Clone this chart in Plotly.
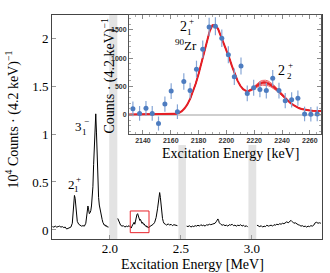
import plotly.graph_objects as go

# ---------------- data ----------------
# main spectrum (energy in MeV, counts in 10^4 per 4.2 keV); None marks gaps
spectrum_mev = [
    1.595, 1.605, 1.615, 1.625, 1.635, 1.645, 1.655, 1.665, 1.675, 1.685, 1.695, 1.705, 1.715, 1.725,
    1.735, 1.740, 1.745, 1.750, 1.755, 1.760, 1.765, 1.770, 1.780, 1.790, 1.800, 1.810, 1.820, 1.830,
    1.835, 1.840, 1.845, 1.850, 1.855, 1.860, 1.865, 1.870, 1.875, 1.880, 1.885, 1.890, 1.895, 1.900,
    1.905, 1.910, 1.915, 1.920, 1.925, 1.930, 1.935, 1.940, 1.945, 1.950, 1.955, 1.960, 1.965, 1.970,
    1.975, 1.980, 1.985, 1.990,
    2.020,
    2.055, 2.060, 2.065, 2.070, 2.075, 2.085, 2.095, 2.105, 2.115, 2.125, 2.135, 2.145, 2.150, 2.155,
    2.160, 2.165, 2.170, 2.175, 2.180, 2.185, 2.190, 2.195, 2.200, 2.205, 2.210, 2.215, 2.220, 2.225,
    2.230, 2.235, 2.240, 2.245, 2.250, 2.255, 2.260, 2.265, 2.270, 2.275, 2.285, 2.295, 2.305, 2.315,
    2.325, 2.335, 2.340, 2.345, 2.350, 2.355, 2.360, 2.365, 2.370, 2.375, 2.380, 2.390, 2.400, 2.410,
    2.420, 2.430, 2.440, 2.450, 2.460, 2.470, 2.475,
    2.505,
    2.540, 2.550, 2.560, 2.570, 2.580, 2.590, 2.600, 2.610, 2.620, 2.630, 2.640, 2.650, 2.660, 2.670,
    2.680, 2.690, 2.700, 2.710, 2.720, 2.730, 2.740, 2.750, 2.755, 2.760, 2.765, 2.770, 2.780, 2.790,
    2.800, 2.810, 2.820, 2.830, 2.840, 2.850, 2.860, 2.870, 2.880, 2.890, 2.900, 2.910, 2.920, 2.930,
    2.940, 2.950, 2.960, 2.970,
    3.000,
    3.035, 3.045, 3.055, 3.065, 3.075, 3.085, 3.095, 3.105, 3.115, 3.125, 3.135, 3.145, 3.155, 3.165,
    3.175, 3.185, 3.195, 3.205, 3.215, 3.225, 3.235, 3.245, 3.255, 3.265, 3.275, 3.285, 3.295, 3.305,
    3.315, 3.325, 3.335, 3.345, 3.355, 3.365, 3.375, 3.385, 3.395, 3.405, 3.415, 3.425, 3.435, 3.445,
    3.455, 3.465, 3.475, 3.485,
]
spectrum_counts = [
    0.035, 0.030, 0.040, 0.030, 0.035, 0.040, 0.030, 0.035, 0.025, 0.030, 0.010, 0.015, 0.020, 0.030,
    0.070, 0.150, 0.270, 0.360, 0.330, 0.220, 0.140, 0.090, 0.060, 0.050, 0.040, 0.045, 0.040, 0.070,
    0.130, 0.220, 0.250, 0.210, 0.170, 0.180, 0.200, 0.250, 0.330, 0.450, 0.680, 0.950, 1.180, 1.210,
    1.020, 0.720, 0.480, 0.340, 0.260, 0.210, 0.170, 0.140, 0.110, 0.080, 0.070, 0.050, 0.055, 0.040,
    0.045, 0.030, 0.035, 0.030,
    None,
    0.120, 0.100, 0.080, 0.060, 0.050, 0.040, 0.045, 0.030, 0.040, 0.035, 0.045, 0.030, 0.020, 0.040,
    0.050, 0.070, 0.080, 0.060, 0.100, 0.130, 0.160, 0.170, 0.150, 0.120, 0.100, 0.110, 0.080, 0.070,
    0.080, 0.060, 0.065, 0.050, 0.040, 0.045, 0.030, 0.035, 0.020, 0.030, 0.040, 0.050, 0.060, 0.080,
    0.130, 0.220, 0.300, 0.370, 0.390, 0.340, 0.250, 0.170, 0.120, 0.090, 0.070, 0.060, 0.050, 0.065,
    0.050, 0.060, 0.045, 0.055, 0.050, 0.040, 0.045,
    None,
    0.040, 0.035, 0.045, 0.030, 0.040, 0.035, 0.045, 0.040, 0.050, 0.040, 0.055, 0.045, 0.050, 0.040,
    0.055, 0.050, 0.060, 0.055, 0.060, 0.065, 0.070, 0.090, 0.100, 0.115, 0.100, 0.075, 0.060, 0.050,
    0.055, 0.045, 0.050, 0.040, 0.055, 0.050, 0.060, 0.045, 0.050, 0.040, 0.050, 0.045, 0.055, 0.040,
    0.050, 0.035, 0.045, 0.030,
    None,
    0.050, 0.040, 0.035, 0.045, 0.030, 0.040, 0.035, 0.050, 0.040, 0.045, 0.050, 0.040, 0.055, 0.050,
    0.060, 0.055, 0.065, 0.060, 0.070, 0.065, 0.080, 0.085, 0.075, 0.090, 0.100, 0.085, 0.070, 0.075,
    0.060, 0.055, 0.050, 0.040, 0.045, 0.035, 0.040, 0.030, 0.040, 0.035, 0.045, 0.040, 0.050, 0.075,
    0.080, 0.070, 0.075, 0.070,
]

# excluded energy windows (MeV)
gap_start_mev = [1.995, 2.482, 2.975]
gap_end_mev = [2.052, 2.535, 3.030]

# zoom box (MeV / 10^4 counts)
box_mev = [2.143, 2.275]
box_counts = [-0.028, 0.198]

# inset data points (keV, counts per 4.2 keV)
inset_kev = [2132.8, 2137.6, 2142.2, 2146.7, 2151.2, 2155.8, 2160.3, 2164.8, 2169.4, 2173.9,
             2178.5, 2183.0, 2187.6, 2192.1, 2196.7, 2201.4, 2205.7, 2210.5, 2215.0, 2219.6,
             2224.1, 2228.7, 2233.3, 2237.8, 2242.3, 2246.9, 2251.4, 2256.2, 2260.7, 2265.3]
inset_counts = [100, 20, 110, 20, -160, 185, 415, 50, 585, 425,
                805, 1160, 1555, 1565, 1355, 1060, 670, 860, 375, 475,
                445, 425, 645, 425, 245, 260, 290, 10, 5, 10]
inset_err = [130, 130, 130, 130, 125, 135, 140, 130, 145, 140,
             150, 155, 160, 160, 155, 150, 145, 150, 140, 140,
             140, 140, 145, 140, 135, 135, 135, 130, 130, 130]

# fit curve (keV, counts) and its uncertainty
fit_kev = [2130, 2160, 2162, 2164, 2166, 2168, 2170, 2172, 2174, 2176, 2178, 2180, 2182, 2184,
           2186, 2188, 2190, 2192, 2194, 2196, 2198, 2200, 2202, 2204, 2206, 2208, 2210, 2212,
           2214, 2216, 2218, 2220, 2222, 2224, 2226, 2228, 2230, 2232, 2234, 2236, 2238, 2240,
           2242, 2244, 2246, 2248, 2250, 2252, 2254, 2256, 2258, 2260, 2262, 2264, 2266, 2268]
fit_counts = [0, 0, 3, 12, 30, 60, 110, 180, 280, 400, 550, 720, 910, 1110,
              1310, 1480, 1585, 1585, 1520, 1400, 1280, 1160, 1010, 860, 720, 600, 510, 450,
              420, 418, 440, 480, 520, 548, 563, 565, 553, 528, 492, 448, 400, 345,
              295, 248, 205, 170, 140, 115, 98, 86, 77, 71, 67, 64, 62, 60]
fit_unc = [0, 0, 0, 0, 0, 0, 0, 0, 0, 0, 0, 0, 0, 0,
           0, 0, 0, 0, 0, 0, 0, 0, 0, 0, 0, 1, 2, 3,
           6, 10, 16, 24, 32, 38, 42, 43, 42, 38, 33, 27, 21, 16,
           12, 9, 6, 4, 3, 2, 1, 0, 0, 0, 0, 0, 0, 0]

main_xticks = [2.0, 2.5, 3.0]
main_xticklabels = ["2.0", "2.5", "3.0"]
main_yticks = [0, 0.5, 1, 1.5, 2]
main_yticklabels = ["0", "0.5", "1", "1.5", "2"]
inset_xticks = [2140, 2160, 2180, 2200, 2220, 2240, 2260]
inset_yticks = [0, 500, 1000, 1500]

# ---------------- style ----------------
SERIF = "Liberation Serif"
SANS = "Liberation Sans"
W, H = 330, 273
L, R, T, B = 52, 8, 15, 34
PW, PH = W - L - R, H - T - B

def px2paper(px, py):
    return (px - L) / PW, (H - B - py) / PH

def ann(text, px, py, size, angle=0):
    x, y = px2paper(px, py)
    return dict(text=text, x=x, y=y, xref="paper", yref="paper", showarrow=False,
                xanchor="center", yanchor="middle", textangle=angle,
                font=dict(family=SERIF, size=size, color="black"))

fig = go.Figure()

fig.add_trace(go.Scatter(x=spectrum_mev, y=spectrum_counts, mode="lines",
                         line=dict(color="black", width=1), connectgaps=False,
                         xaxis="x", yaxis="y", showlegend=False))

upper = [c + u for c, u in zip(fit_counts, fit_unc)]
lower = [c - u for c, u in zip(fit_counts, fit_unc)]
upper_in = [c + u * 0.5 for c, u in zip(fit_counts, fit_unc)]
lower_in = [c - u * 0.5 for c, u in zip(fit_counts, fit_unc)]
for arr in (upper, lower, upper_in, lower_in):
    fig.add_trace(go.Scatter(x=fit_kev, y=arr, mode="lines", line=dict(color="#e8333a", width=0.8),
                             xaxis="x2", yaxis="y2", showlegend=False))
fig.add_trace(go.Scatter(x=fit_kev, y=fit_counts, mode="lines", line=dict(color="#e41f26", width=2),
                         xaxis="x2", yaxis="y2", showlegend=False))
fig.add_trace(go.Scatter(x=inset_kev, y=inset_counts, mode="markers",
                         marker=dict(color="#4d7cc0", size=5),
                         error_y=dict(type="data", array=inset_err, color="#86a6d6", thickness=1.2, width=0),
                         xaxis="x2", yaxis="y2", showlegend=False))

shapes = []
ytop_full = 2.24
ytop_cut = 0.885
for i, (a, b) in enumerate(zip(gap_start_mev, gap_end_mev)):
    shapes.append(dict(type="rect", xref="x", yref="y", x0=a, x1=b, y0=-0.094,
                       y1=ytop_full if i == 0 else ytop_cut,
                       fillcolor="#e3e3e3", line=dict(width=0), layer="below"))
shapes.append(dict(type="rect", xref="x", yref="y", x0=box_mev[0], x1=box_mev[1],
                   y0=box_counts[0], y1=box_counts[1], line=dict(color="#e8232a", width=1),
                   fillcolor="rgba(0,0,0,0)", layer="above"))

axis_common = dict(showgrid=False, zeroline=False, showline=True, linecolor="#444", linewidth=1,
                   ticks="inside", tickcolor="#999", ticklen=4)

annotations = [
    ann("10<sup>4</sup> Counts · (4.2 keV)<sup>−1</sup>", 12.5, 120, 14, -90),
    ann("Excitation Energy [MeV]", 192.5, 264, 14),
    ann("Counts · (4.2 keV)<sup>−1</sup>", 108.5, 76, 14, -90),
    ann("Excitation Energy [keV]", 230.5, 153, 14),
    # 3_1^-
    ann("3", 78.3, 126, 13), ann("−", 86, 121, 9), ann("1", 84, 131.5, 9),
    # 2_1^+ main
    ann("2", 71, 184, 13), ann("+", 78.5, 178.5, 9), ann("1", 76.5, 188.5, 9),
    # inset 2_1^+
    ann("2", 183, 26.5, 14), ann("+", 191, 21, 9), ann("1", 189, 31.5, 9),
    # 90Zr
    ann("<sup>90</sup>Zr", 186, 44.5, 13),
    # 2_2^+
    ann("2", 281.5, 70, 14), ann("+", 290, 64.5, 9), ann("2", 289.5, 75.5, 9),
]

fig.update_layout(
    width=W, height=H, margin=dict(l=L, r=R, t=T, b=B),
    paper_bgcolor="white", plot_bgcolor="white", showlegend=False,
    xaxis=dict(domain=[0, 1], range=[1.592, 3.493], tickvals=main_xticks, ticktext=main_xticklabels,
               mirror=True, tickfont=dict(family=SERIF, size=13, color="black"), anchor="y",
               ticklabelstandoff=-3, **axis_common),
    yaxis=dict(domain=[0, 1], range=[-0.094, 2.24], tickvals=main_yticks, ticktext=main_yticklabels,
               mirror=True, tickfont=dict(family=SERIF, size=13, color="black"), anchor="x",
               **axis_common),
    xaxis2=dict(domain=[(129 - L) / PW, (321 - L) / PW], range=[2130, 2268], tickvals=inset_xticks,
                anchor="y2", showgrid=False, zeroline=False, showline=True, linecolor="#555",
                linewidth=1, mirror="allticks", ticks="inside", ticklen=4, tickcolor="#888",
                minor=dict(dtick=5, tick0=2130, ticks="inside", ticklen=2, tickcolor="#aaa"),
                tickfont=dict(family=SANS, size=7, color="#333", weight="bold")),
    yaxis2=dict(domain=[(H - B - 134) / PH, 1], range=[-346, 1766], tickvals=inset_yticks,
                anchor="x2", showgrid=False, zeroline=True, zerolinecolor="#cfcfcf", zerolinewidth=1.5,
                showline=True, linecolor="#555", linewidth=1, mirror="allticks", ticks="inside",
                ticklen=4, tickcolor="#888",
                minor=dict(dtick=100, ticks="inside", ticklen=2, tickcolor="#aaa"),
                tickfont=dict(family=SANS, size=7, color="#333", weight="bold")),
    shapes=shapes, annotations=annotations,
)

fig.write_html("out.html", config={"displayModeBar": False},
               post_script="document.body.style.margin='0px';document.body.style.padding='0px';")
